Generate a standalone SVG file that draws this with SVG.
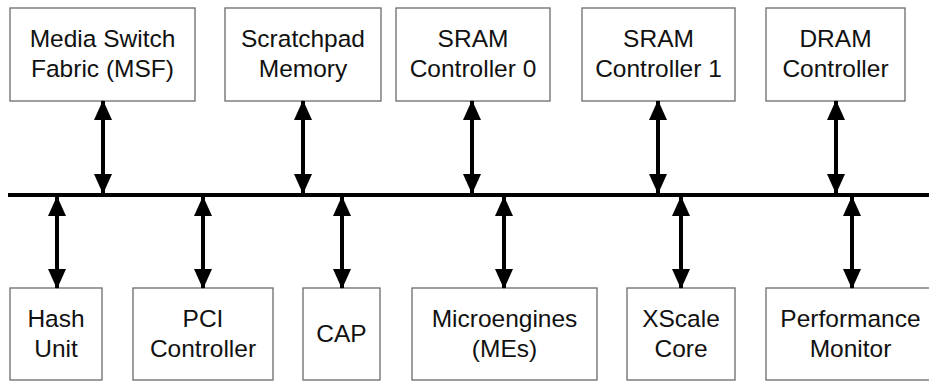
<svg xmlns="http://www.w3.org/2000/svg" width="929" height="381" viewBox="0 0 929 381">
  <style>
    .box { fill: #ffffff; stroke: #6a6a6a; stroke-width: 1.3; }
    .lbl { font-family: "Liberation Sans", Arial, sans-serif; font-size: 24.5px; fill: #111111; text-anchor: middle; }
    .bus { stroke: #000000; stroke-width: 4; }
    .link { stroke: #000000; stroke-width: 4; fill: none; marker-start: url(#head); marker-end: url(#head); }
  </style>
  <defs>
    <marker id="head" viewBox="0 0 20 18" refX="19" refY="9" markerWidth="20" markerHeight="18" markerUnits="userSpaceOnUse" orient="auto-start-reverse">
      <path d="M0,0 L20,9 L0,18 Z" fill="#000000"/>
    </marker>
  </defs>
  <rect width="929" height="381" fill="#ffffff"/>

  <!-- upper row -->
  <g id="msf">
    <rect class="box" x="10" y="8" width="185" height="93"/>
    <text class="lbl" x="102.5" y="47">Media Switch</text>
    <text class="lbl" x="102.5" y="77">Fabric (MSF)</text>
  </g>
  <g id="scratchpad">
    <rect class="box" x="225" y="8" width="156" height="93"/>
    <text class="lbl" x="303" y="47">Scratchpad</text>
    <text class="lbl" x="303" y="77">Memory</text>
  </g>
  <g id="sram0">
    <rect class="box" x="396" y="8" width="154" height="93"/>
    <text class="lbl" x="473" y="47">SRAM</text>
    <text class="lbl" x="473" y="77">Controller 0</text>
  </g>
  <g id="sram1">
    <rect class="box" x="582" y="8" width="153" height="93"/>
    <text class="lbl" x="658.5" y="47">SRAM</text>
    <text class="lbl" x="658.5" y="77">Controller 1</text>
  </g>
  <g id="dram">
    <rect class="box" x="766" y="8" width="139" height="93"/>
    <text class="lbl" x="835.5" y="47">DRAM</text>
    <text class="lbl" x="835.5" y="77">Controller</text>
  </g>

  <!-- lower row -->
  <g id="hash">
    <rect class="box" x="10" y="288" width="92" height="92"/>
    <text class="lbl" x="56" y="327">Hash</text>
    <text class="lbl" x="56" y="357">Unit</text>
  </g>
  <g id="pci">
    <rect class="box" x="133" y="288" width="140" height="92"/>
    <text class="lbl" x="203" y="327">PCI</text>
    <text class="lbl" x="203" y="357">Controller</text>
  </g>
  <g id="cap">
    <rect class="box" x="303" y="288" width="77" height="92"/>
    <text class="lbl" x="341.5" y="342">CAP</text>
  </g>
  <g id="mes">
    <rect class="box" x="412" y="288" width="185" height="92"/>
    <text class="lbl" x="504.5" y="327">Microengines</text>
    <text class="lbl" x="504.5" y="357">(MEs)</text>
  </g>
  <g id="xscale">
    <rect class="box" x="627" y="288" width="108" height="92"/>
    <text class="lbl" x="681" y="327">XScale</text>
    <text class="lbl" x="681" y="357">Core</text>
  </g>
  <g id="perfmon">
    <rect class="box" x="766" y="288" width="175" height="92"/>
    <text class="lbl" x="850.5" y="327">Performance</text>
    <text class="lbl" x="850.5" y="357">Monitor</text>
  </g>

  <!-- shared bus and bidirectional links -->
  <g id="connectors">
    <line class="bus" x1="8" y1="195" x2="929" y2="195"/>
    <line class="link" x1="103" y1="101" x2="103" y2="193"/>
    <line class="link" x1="303" y1="101" x2="303" y2="193"/>
    <line class="link" x1="472" y1="101" x2="472" y2="193"/>
    <line class="link" x1="658" y1="101" x2="658" y2="193"/>
    <line class="link" x1="836" y1="101" x2="836" y2="193"/>
    <line class="link" x1="57" y1="197" x2="57" y2="288"/>
    <line class="link" x1="203" y1="197" x2="203" y2="288"/>
    <line class="link" x1="342" y1="197" x2="342" y2="288"/>
    <line class="link" x1="504" y1="197" x2="504" y2="288"/>
    <line class="link" x1="681" y1="197" x2="681" y2="288"/>
    <line class="link" x1="852" y1="197" x2="852" y2="288"/>
  </g>
</svg>
